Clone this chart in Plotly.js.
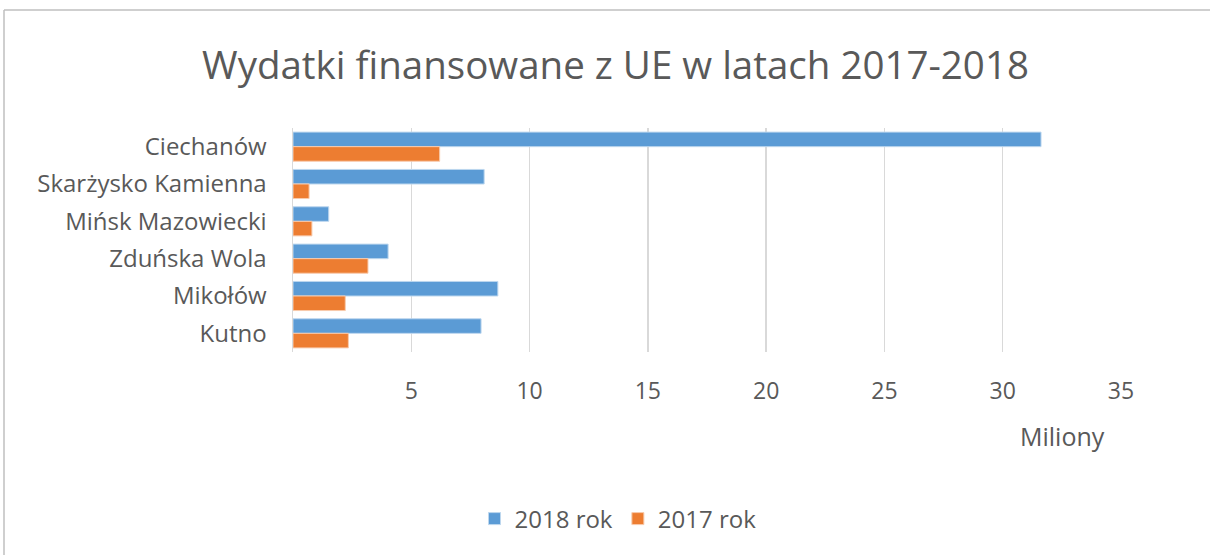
<!DOCTYPE html>
<html><head><meta charset="utf-8">
<script src="https://cdn.plot.ly/plotly-3.0.1.min.js"></script>
<style>html,body{margin:0;padding:0;background:#fff}#chart{width:1210px;height:555px}</style>
</head><body><div id="chart"></div>
<script>
const categories = ["Ciechanów","Skarżysko Kamienna","Mińsk Mazowiecki","Zduńska Wola","Mikołów","Kutno"];
const values2018 = [31.62, 8.08, 1.51, 4.02, 8.66, 7.95];
const values2017 = [6.20, 0.68, 0.80, 3.17, 2.21, 2.34];
const seriesNames = ["2018 rok","2017 rok"];
const tickValues = [5,10,15,20,25,30,35];

const font = "'Open Sans', sans-serif";
const txt = "#595959";
const traces = [
  {type:"bar", orientation:"h", name:seriesNames[0], y:categories, x:values2018,
   marker:{color:"#5B9BD5", line:{color:"#BDD7EE", width:1}}},
  {type:"bar", orientation:"h", name:seriesNames[1], y:categories, x:values2017,
   marker:{color:"#ED7D31", line:{color:"#F8CBAD", width:1}}}
];
const layout = {
  width:1210, height:555,
  margin:{l:293, r:89, t:128, b:203},
  paper_bgcolor:"#fff", plot_bgcolor:"#fff",
  font:{family:font, color:txt, size:24},
  title:{text:"Wydatki finansowane z UE w latach 2017-2018", x:615.5/1210, xanchor:"center", y:0.882, yanchor:"middle",
         font:{family:font, size:38.5, color:txt}},
  barmode:"group", bargap:0.22, bargroupgap:0,
  xaxis:{range:[0,35], tickvals:tickValues, ticktext:tickValues.map(String), showgrid:true, gridcolor:"#D9D9D9", gridwidth:1.5,
         zeroline:false, showline:false, ticks:"outside", ticklen:18, tickcolor:"rgba(0,0,0,0)",
         tickfont:{family:font, size:23, color:txt}, fixedrange:true},
  yaxis:{autorange:"reversed", showline:true, linecolor:"#D9D9D9", linewidth:1.5, showgrid:false,
         ticks:"outside", ticklen:20, tickcolor:"rgba(0,0,0,0)", tickfont:{family:font, size:24, color:txt}},
  showlegend:true,
  legend:{orientation:"h", x:(618-293)/828, xanchor:"center", y:-(519-352)/224, yanchor:"middle", font:{family:font, size:24, color:txt},
          traceorder:"normal", itemwidth:30},
  annotations:[{text:"Miliony", xref:"paper", yref:"paper", x:(1062-293)/828, y:-(436-352)/224,
                xanchor:"center", yanchor:"middle", showarrow:false, font:{family:font, size:25, color:txt}}],
  shapes:[
    {type:"line", xref:"paper", yref:"paper", x0:(4-293)/828, x1:(1215-293)/828, y0:1+(128-10)/224, y1:1+(128-10)/224, line:{color:"#BFBFBF", width:1.5}},
    {type:"line", xref:"paper", yref:"paper", x0:(4-293)/828, x1:(4-293)/828, y0:1+(128-10)/224, y1:-(560-352)/224, line:{color:"#BFBFBF", width:1.5}}
  ]
};
Plotly.newPlot("chart", traces, layout, {displayModeBar:false, staticPlot:true});
</script></body></html>
